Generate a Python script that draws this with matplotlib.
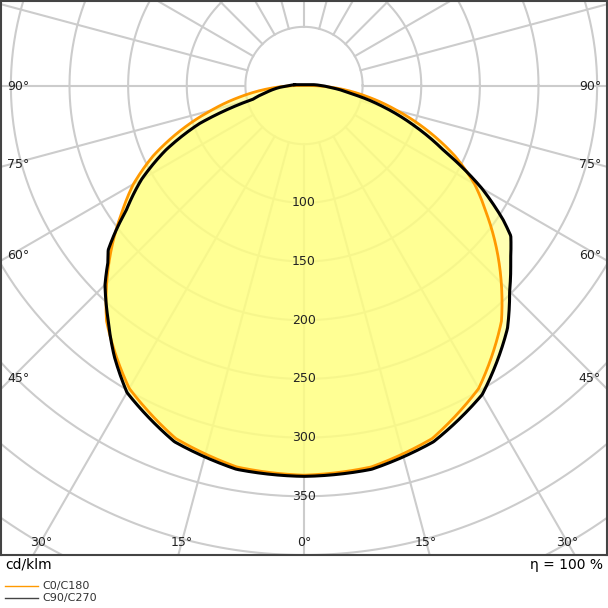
import numpy as np
import matplotlib
matplotlib.use("Agg")
import matplotlib.pyplot as plt

# C0/C180 (orange), symmetric, angle from nadir in degrees, cd/klm
c0_angles = [0, 10, 20, 30, 40, 45, 50, 55, 60, 65, 70, 75, 80, 85, 90]
c0_values = [332, 330, 320, 298, 262, 238, 214, 190, 168, 142, 112, 82, 55, 30, 5]
# C90/C270 (black), signed angle: negative = C270 side (left)
c90_angles = [-95, -90, -85, -80, -75, -70, -65, -60, -55, -52, -50, -48, -45, -40, -35, -30, -20, -10,
              0, 10, 20, 30, 40, 45, 50, 54, 56, 60, 65, 70, 75, 80, 85, 90, 95]
c90_values = [8, 12, 22, 32, 45, 95, 130, 160, 185, 205, 218, 225, 240, 260, 282, 302, 323, 332,
              333, 332, 323, 304, 270, 248, 230, 218, 205, 175, 132, 100, 70, 42, 25, 14, 8]
ring_labels = [100, 150, 200, 250, 300, 350]

def xy(ang, r):
    a = np.radians(ang)
    return np.asarray(r) * np.sin(a), -np.asarray(r) * np.cos(a)

def dense(angs, vals):
    a = np.linspace(min(angs), max(angs), 800)
    return a, np.interp(a, angs, vals)

fig = plt.figure(figsize=(6.08, 6.08), dpi=100)
ax = fig.add_axes([0.0015, 53/608, 0.997, 554/608])
ax.set_xlim(-258.5, 258.5)
ax.set_ylim(-400, 72)
ax.set_xticks([]); ax.set_yticks([])
for s in ax.spines.values():
    s.set_linewidth(1.5); s.set_color('#444444')

t = np.linspace(0, 2*np.pi, 400)
for r in range(50, 801, 50):
    ax.plot(r*np.cos(t), r*np.sin(t), color='#cccccc', lw=1.5, zorder=1)
for a in range(0, 360, 15):
    x0, y0 = xy(a, 50); x1, y1 = xy(a, 900)
    ax.plot([x0, x1], [y0, y1], color='#cccccc', lw=1.5, zorder=1)

oa = [-a for a in c0_angles[::-1]] + c0_angles[1:]
ov = c0_values[::-1] + c0_values[1:]
ox, oy = xy(*dense(oa, ov))
bx, by = xy(*dense(c90_angles, c90_values))
ax.fill(ox, oy, color='#ffff80', alpha=0.6, zorder=2, lw=0)
ax.fill(bx, by, color='#ffff80', alpha=0.6, zorder=2, lw=0)
ax.plot(np.append(ox, ox[0]), np.append(oy, oy[0]), color='#ff9900', lw=2, zorder=3)
ax.plot(np.append(bx, bx[0]), np.append(by, by[0]), color='black', lw=2.2, zorder=4)

for r in ring_labels:
    ax.text(0, -r, str(r), ha='center', va='center', fontsize=9, color='#222222', zorder=5)

H = 554
def fy(py):
    return 1 - py / H
for lab, py in [('90°', 85), ('75°', 163), ('60°', 254), ('45°', 378)]:
    ax.text(0.01, fy(py), lab, transform=ax.transAxes, ha='left', va='center', fontsize=9, color='#222222')
    ax.text(0.99, fy(py), lab, transform=ax.transAxes, ha='right', va='center', fontsize=9, color='#222222')
for lab, px in [('30°', 40), ('15°', 181), ('0°', 304), ('15°', 426), ('30°', 568)]:
    ax.text(px/608, fy(542), lab, transform=ax.transAxes, ha='center', va='center', fontsize=9, color='#222222')

fig.text(5/608, 1-565/608, 'cd/klm', ha='left', va='center', fontsize=10)
fig.text(603/608, 1-565/608, 'η = 100 %', ha='right', va='center', fontsize=10)
fig.lines.append(plt.Line2D([5/608, 38/608], [1-586/608]*2, color='#ff9900', lw=1, transform=fig.transFigure))
fig.lines.append(plt.Line2D([5/608, 38/608], [1-598/608]*2, color='#444444', lw=1, transform=fig.transFigure))
fig.text(42/608, 1-586/608, 'C0/C180', ha='left', va='center', fontsize=8, color='#333333')
fig.text(42/608, 1-598/608, 'C90/C270', ha='left', va='center', fontsize=8, color='#333333')

fig.savefig('out.png', dpi=100)
